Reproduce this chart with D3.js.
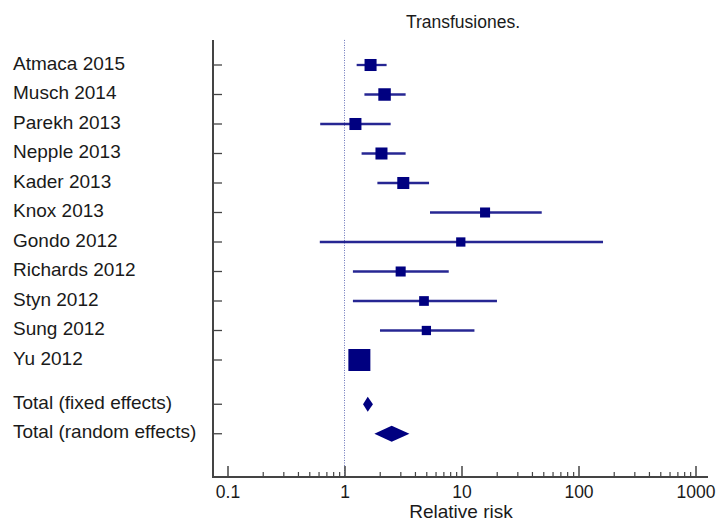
<!DOCTYPE html>
<html>
<head>
<meta charset="utf-8">
<script src="https://cdn.jsdelivr.net/npm/d3@7"></script>
<style>
  html, body { margin: 0; padding: 0; background: #fff; }
  svg { display: block; font-family: "Liberation Sans", Arial, Helvetica, sans-serif; }
</style>
</head>
<body>
<svg id="chart" width="720" height="531"></svg>
<script>
// ---- data ----
const studies = ["Atmaca 2015", "Musch 2014", "Parekh 2013", "Nepple 2013", "Kader 2013",
  "Knox 2013", "Gondo 2012", "Richards 2012", "Styn 2012", "Sung 2012", "Yu 2012"];
const rr    = [1.67, 2.20, 1.24, 2.07, 3.18, 15.9, 9.86, 3.02, 4.78, 5.01, 1.34];
const lower = [1.27, 1.48, 0.62, 1.40, 1.91, 5.38, 0.615, 1.18, 1.18, 2.01, 1.15];
const upper = [2.29, 3.33, 2.48, 3.33, 5.28, 48.5, 162, 7.78, 20.1, 12.9, 1.55];
const weights = [8.9, 9.6, 8.9, 8.9, 8.9, 6.2, 5.3, 6.2, 5.8, 5.3, 29.8];

const totals = ["Total (fixed effects)", "Total (random effects)"];
const totalRR    = [1.58, 2.53];
const totalLower = [1.44, 1.80];
const totalUpper = [1.75, 3.59];

const xTickValues = [0.1, 1, 10, 100, 1000];
const xTickLabels = ["0.1", "1", "10", "100", "1000"];
const title = "Transfusiones.";
const xTitle = "Relative risk";

// ---- layout ----
const svg = d3.select("#chart");
const navy = "#000080";
const axisColor = "#444";
const textColor = "#1a1a1a";

const x = d3.scaleLog().domain([0.1, 1000]).range([227.5, 695.5]);
const y = d3.scaleLinear().domain([0, 1]).range([65, 94.5]); // row index -> pixel
const leftX = 213, bottomY = 477, topY = y(-0.85), rightX = 708;

const size = d3.scaleSqrt().domain([0, d3.max(weights)]).range([0, 22]);

// title
svg.append("text").attr("x", 463).attr("y", 27.5).attr("text-anchor", "middle")
  .attr("font-size", 17.5).attr("fill", textColor).text(title);

// reference line at RR = 1
svg.append("line").attr("x1", x(1)).attr("x2", x(1)).attr("y1", topY).attr("y2", bottomY)
  .attr("stroke", "#6670b8").attr("stroke-width", 1).attr("stroke-dasharray", "1,1.5");

// left axis
const yTickIdx = d3.range(studies.length).concat([11.5, 12.5]);
svg.append("line").attr("x1", leftX).attr("x2", leftX).attr("y1", topY).attr("y2", bottomY + 1)
  .attr("stroke", axisColor).attr("stroke-width", 2);
svg.append("g").selectAll("line").data(yTickIdx).join("line")
  .attr("x1", leftX).attr("x2", leftX + 9)
  .attr("y1", d => y(d)).attr("y2", d => y(d))
  .attr("stroke", axisColor).attr("stroke-width", 1.3);

// row labels
svg.append("g").selectAll("text").data(studies.concat(totals)).join("text")
  .attr("x", 13).attr("y", (d, i) => y(yTickIdx[i]) + 4.5)
  .attr("font-size", 19).attr("fill", textColor).text(d => d);

// bottom axis: minor ticks
const minor = [];
[0.1, 1, 10, 100].forEach(b => { for (let k = 2; k <= 9; k++) minor.push(b * k); });
const gMinor = svg.append("g").attr("transform", `translate(0,${bottomY})`)
  .call(d3.axisBottom(x).tickValues(minor).tickSize(-5).tickFormat(""));
gMinor.select(".domain").remove();
gMinor.selectAll("line").attr("stroke", axisColor).attr("stroke-width", 1.2);

// bottom axis: major ticks
const gMajor = svg.append("g").attr("transform", `translate(0,${bottomY})`)
  .call(d3.axisBottom(x).tickValues(xTickValues).tickSize(-11)
    .tickFormat((d, i) => xTickLabels[i]));
gMajor.select(".domain").remove();
gMajor.selectAll("line").attr("stroke", axisColor).attr("stroke-width", 1.5);
gMajor.selectAll("text").attr("font-size", 17.5).attr("fill", textColor)
  .attr("font-family", "'Liberation Sans', Arial, sans-serif")
  .attr("dy", null).attr("y", 21);
svg.append("line").attr("x1", leftX - 1).attr("x2", rightX).attr("y1", bottomY).attr("y2", bottomY)
  .attr("stroke", axisColor).attr("stroke-width", 2);

svg.append("text").attr("x", 461).attr("y", 518).attr("text-anchor", "middle")
  .attr("font-size", 19).attr("fill", textColor).text(xTitle);

// CI lines
const g = svg.append("g");
g.selectAll("line.ci").data(studies).join("line").attr("class", "ci")
  .attr("x1", (d, i) => x(lower[i])).attr("x2", (d, i) => x(upper[i]))
  .attr("y1", (d, i) => y(i)).attr("y2", (d, i) => y(i))
  .attr("stroke", navy).attr("stroke-width", 2.3).attr("stroke-opacity", 0.85);

// squares
g.selectAll("rect").data(studies).join("rect")
  .attr("x", (d, i) => x(rr[i]) - size(weights[i]) / 2)
  .attr("y", (d, i) => y(i) - size(weights[i]) / 2)
  .attr("width", (d, i) => size(weights[i]))
  .attr("height", (d, i) => size(weights[i]))
  .attr("fill", navy);

// diamonds
const diamondH = [15, 16];
g.selectAll("path.dia").data(totals).join("path").attr("class", "dia")
  .attr("d", (d, i) => {
    const cy = y(yTickIdx[studies.length + i]);
    const h = diamondH[i] / 2;
    return `M${x(totalLower[i])},${cy} L${x(totalRR[i])},${cy - h} L${x(totalUpper[i])},${cy} L${x(totalRR[i])},${cy + h} Z`;
  })
  .attr("fill", navy);
</script>
</body>
</html>
